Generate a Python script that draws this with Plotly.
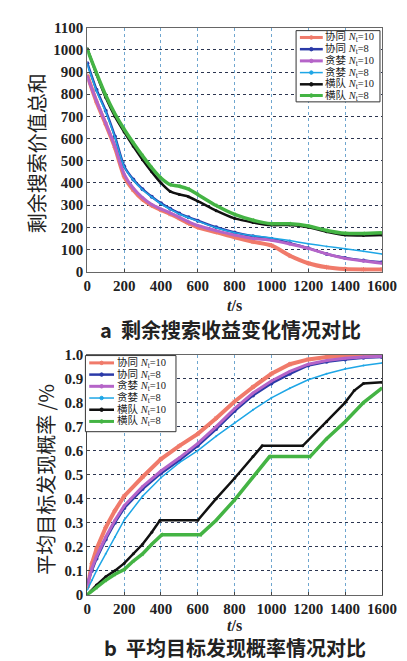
import plotly.graph_objects as go

W, H = 407, 661

# ---------------- data: (a) remaining search value sum ----------------
t_a = [0, 50, 100, 150, 200, 250, 300, 350, 400, 450, 500, 550, 600, 700, 800,
       900, 1000, 1100, 1200, 1300, 1400, 1500, 1600]
a_coop10 = [885, 765, 665, 560, 430, 368, 325, 298, 278, 260, 240, 218, 200, 178, 155,
            135, 118, 72, 38, 20, 12, 10, 10]
a_coop8 = [940, 820, 725, 610, 475, 415, 372, 338, 308, 284, 262, 245, 230, 200, 177,
           160, 148, 128, 106, 80, 62, 50, 42]
a_greedy10 = [880, 770, 670, 565, 440, 376, 334, 303, 283, 265, 245, 225, 208, 185, 165,
              150, 142, 125, 105, 80, 60, 48, 38]
a_greedy8 = [935, 815, 720, 605, 473, 413, 369, 336, 306, 282, 260, 243, 228, 198, 176,
             162, 152, 140, 126, 114, 103, 92, 80]
a_line10 = [1005, 890, 785, 700, 630, 565, 505, 450, 400, 362, 348, 338, 318, 275, 240,
            222, 210, 210, 200, 180, 165, 163, 165]
a_line8 = [1000, 895, 795, 712, 642, 580, 522, 468, 422, 392, 385, 372, 348, 298, 258,
           232, 216, 216, 206, 186, 173, 172, 175]

# ---------------- data: (b) average target detection probability ----------------
t_b = [0, 25, 50, 100, 150, 200, 300, 400, 500, 600, 700, 800, 900, 1000, 1100,
       1200, 1300, 1400, 1500, 1600]
b_coop10 = [0.03, 0.13, 0.19, 0.28, 0.35, 0.41, 0.49, 0.565, 0.62, 0.67, 0.735, 0.805,
            0.865, 0.92, 0.96, 0.98, 0.99, 0.993, 0.995, 0.997]
b_coop8 = [0.05, 0.10, 0.15, 0.23, 0.30, 0.36, 0.44, 0.505, 0.56, 0.62, 0.69, 0.765,
           0.83, 0.88, 0.92, 0.955, 0.97, 0.98, 0.987, 0.99]
b_greedy10 = [0.04, 0.11, 0.16, 0.24, 0.31, 0.37, 0.45, 0.515, 0.57, 0.63, 0.70, 0.775,
              0.84, 0.89, 0.93, 0.96, 0.975, 0.985, 0.99, 0.993]
b_greedy8 = [0.02, 0.06, 0.10, 0.17, 0.24, 0.31, 0.41, 0.487, 0.55, 0.60, 0.66, 0.715,
             0.77, 0.82, 0.86, 0.895, 0.92, 0.94, 0.955, 0.965]
t_b_line10 = [0, 50, 100, 150, 200, 250, 300, 350, 395, 600, 700, 800, 900, 950,
              1170, 1300, 1400, 1450, 1500, 1600]
b_line10 = [0, 0.04, 0.075, 0.10, 0.13, 0.17, 0.21, 0.26, 0.31, 0.31, 0.40, 0.485,
            0.575, 0.62, 0.62, 0.72, 0.80, 0.85, 0.88, 0.885]
t_b_line8 = [0, 50, 100, 150, 200, 250, 300, 350, 405, 615, 700, 800, 900, 990,
             1210, 1300, 1400, 1500, 1600]
b_line8 = [0, 0.03, 0.06, 0.085, 0.105, 0.14, 0.17, 0.21, 0.25, 0.25, 0.31, 0.395,
           0.49, 0.575, 0.575, 0.65, 0.72, 0.80, 0.86]

x_ticks = [0, 200, 400, 600, 800, 1000, 1200, 1400, 1600]
ya_ticks = [0, 100, 200, 300, 400, 500, 600, 700, 800, 900, 1000, 1100]
yb_ticks = [0, 0.1, 0.2, 0.3, 0.4, 0.5, 0.6, 0.7, 0.8, 0.9, 1.0]
yb_labels = ["0", "0.1", "0.2", "0.3", "0.4", "0.5", "0.6", "0.7", "0.8", "0.9", "1.0"]

names = ["协同 <i>N</i><sub>t</sub>=10", "协同 <i>N</i><sub>t</sub>=8",
         "贪婪 <i>N</i><sub>t</sub>=10", "贪婪 <i>N</i><sub>t</sub>=8",
         "横队 <i>N</i><sub>t</sub>=10", "横队 <i>N</i><sub>t</sub>=8"]

styles = [
    dict(color="#f07a6a", width=4, symbol="asterisk-open", msize=4),
    dict(color="#2b3aa8", width=2.5, symbol="circle", msize=4),
    dict(color="#b564c8", width=3, symbol="circle", msize=3),
    dict(color="#1ea6e6", width=1.5, symbol="circle", msize=2),
    dict(color="#111111", width=2.5, symbol="circle", msize=3),
    dict(color="#44b444", width=3.5, symbol="triangle-left", msize=4),
]

fig = go.Figure()

series_a = [(t_a, a_coop10), (t_a, a_coop8), (t_a, a_greedy10), (t_a, a_greedy8),
            (t_a, a_line10), (t_a, a_line8)]
series_b = [(t_b, b_coop10), (t_b, b_coop8), (t_b, b_greedy10), (t_b, b_greedy8),
            (t_b_line10, b_line10), (t_b_line8, b_line8)]

for i, (tx, ty) in enumerate(series_a):
    s = styles[i]
    fig.add_trace(go.Scatter(
        x=tx, y=ty, mode="lines+markers", name=names[i], showlegend=False,
        line=dict(color=s["color"], width=s["width"], shape="spline", smoothing=0.6),
        marker=dict(symbol=s["symbol"], size=s["msize"], color=s["color"]),
        xaxis="x", yaxis="y"))

for i, (tx, ty) in enumerate(series_b):
    s = styles[i]
    fig.add_trace(go.Scatter(
        x=tx, y=ty, mode="lines+markers", name=names[i], showlegend=False,
        line=dict(color=s["color"], width=s["width"]),
        marker=dict(symbol=s["symbol"], size=s["msize"], color=s["color"]),
        xaxis="x2", yaxis="y2"))

SERIF = "Times New Roman, Liberation Serif, Tinos, serif"
tickfont = dict(family=SERIF, size=15, color="#222", weight="bold")
xd = [79 / W, 388 / W]

common_x = dict(range=[0, 1600], tickvals=x_ticks, tickfont=tickfont,
                showline=True, linecolor="#666", linewidth=1.2, mirror=True,
                ticks="inside", ticklen=3, tickcolor="#444",
                showgrid=True, gridcolor="#6fa6cf", griddash="dot", gridwidth=1.2,
                zeroline=False, fixedrange=True)

fig.update_layout(
    width=W, height=H, margin=dict(l=0, r=0, t=0, b=0),
    paper_bgcolor="white", plot_bgcolor="white", showlegend=False,
    xaxis=dict(domain=xd, anchor="y", **common_x),
    yaxis=dict(domain=[1 - 262 / H, 1 - 12 / H], anchor="x", range=[0, 1100],
               tickvals=ya_ticks, tickfont=tickfont,
               showline=True, linecolor="#666", linewidth=1.2, mirror=True,
               ticks="inside", ticklen=3, tickcolor="#444",
               showgrid=True, gridcolor="#2c3550", griddash="dot", gridwidth=1.2,
               zeroline=False, fixedrange=True),
    xaxis2=dict(domain=xd, anchor="y2", **common_x),
    yaxis2=dict(domain=[1 - 593 / H, 1 - 347 / H], anchor="x2", range=[0, 1.0],
                tickvals=yb_ticks, ticktext=yb_labels, tickfont=tickfont,
                showline=True, linecolor="#444", linewidth=1.2, mirror=True,
                ticks="inside", ticklen=3, tickcolor="#444",
                showgrid=True, gridcolor="#2c3550", griddash="dot", gridwidth=1.2,
                zeroline=False, fixedrange=True),
)

# ---------------- custom compact legends (pixel layout) ----------------
def px(x):
    return x / W

def py(y):
    return 1 - y / H

leg_font = dict(family=SERIF + ", Noto Sans CJK SC", size=10.5, color="#222")

def add_legend(box, rows, line_x0, line_x1, text_x):
    x0, y0, x1, y1 = box
    fig.add_shape(type="rect", xref="paper", yref="paper",
                  x0=px(x0), x1=px(x1), y0=py(y1), y1=py(y0),
                  line=dict(color="#333", width=1), fillcolor="white", layer="above")
    for i, ry in enumerate(rows):
        s = styles[i]
        fig.add_shape(type="line", xref="paper", yref="paper",
                      x0=px(line_x0), x1=px(line_x1), y0=py(ry), y1=py(ry),
                      line=dict(color=s["color"], width=min(s["width"], 3)), layer="above")
        cx = (line_x0 + line_x1) / 2
        r = 1.8
        fig.add_shape(type="circle", xref="paper", yref="paper",
                      x0=px(cx - r), x1=px(cx + r), y0=py(ry + r), y1=py(ry - r),
                      line=dict(color=s["color"], width=1), fillcolor=s["color"],
                      layer="above")
        fig.add_annotation(x=px(text_x), y=py(ry), xref="paper", yref="paper",
                           text=names[i], showarrow=False, font=leg_font,
                           xanchor="left", yanchor="middle")

add_legend((298, 15, 386, 88), [22, 34, 46, 58, 70, 81.5], 302, 326, 326)
add_legend((77, 348, 172, 426), [355.5, 367.5, 379.5, 391.5, 403.5, 415.5], 81, 107, 108)

ann_font_cjk = dict(family="Noto Sans CJK SC", size=20, color="#222")
fig.add_annotation(x=26 / W, y=1 - 141 / H, xref="paper", yref="paper",
                   text="剩余搜索价值总和", textangle=-90, showarrow=False,
                   font=ann_font_cjk, xanchor="center", yanchor="middle")
fig.add_annotation(x=35 / W, y=1 - 475 / H, xref="paper", yref="paper",
                   text="平均目标发现概率 /%", textangle=-90, showarrow=False,
                   font=ann_font_cjk, xanchor="center", yanchor="middle")
ts_font = dict(family=SERIF, size=16, color="#222")
fig.add_annotation(x=233 / W, y=1 - 297 / H, xref="paper", yref="paper",
                   text="<b><i>t</i>/s</b>", showarrow=False, font=ts_font,
                   xanchor="center", yanchor="middle")
fig.add_annotation(x=233 / W, y=1 - 625 / H, xref="paper", yref="paper",
                   text="<b><i>t</i>/s</b>", showarrow=False, font=ts_font,
                   xanchor="center", yanchor="middle")
cap_font = dict(family="Noto Sans CJK SC", size=20, color="#222", weight="bold")
fig.add_annotation(x=229 / W, y=1 - 321 / H, xref="paper", yref="paper",
                   text="<b>a</b>  剩余搜索收益变化情况对比", showarrow=False,
                   font=cap_font, xanchor="center", yanchor="middle")
fig.add_annotation(x=234 / W, y=1 - 647 / H, xref="paper", yref="paper",
                   text="b  平均目标发现概率情况对比", showarrow=False,
                   font=cap_font, xanchor="center", yanchor="middle")

fig.write_html("out.html")
